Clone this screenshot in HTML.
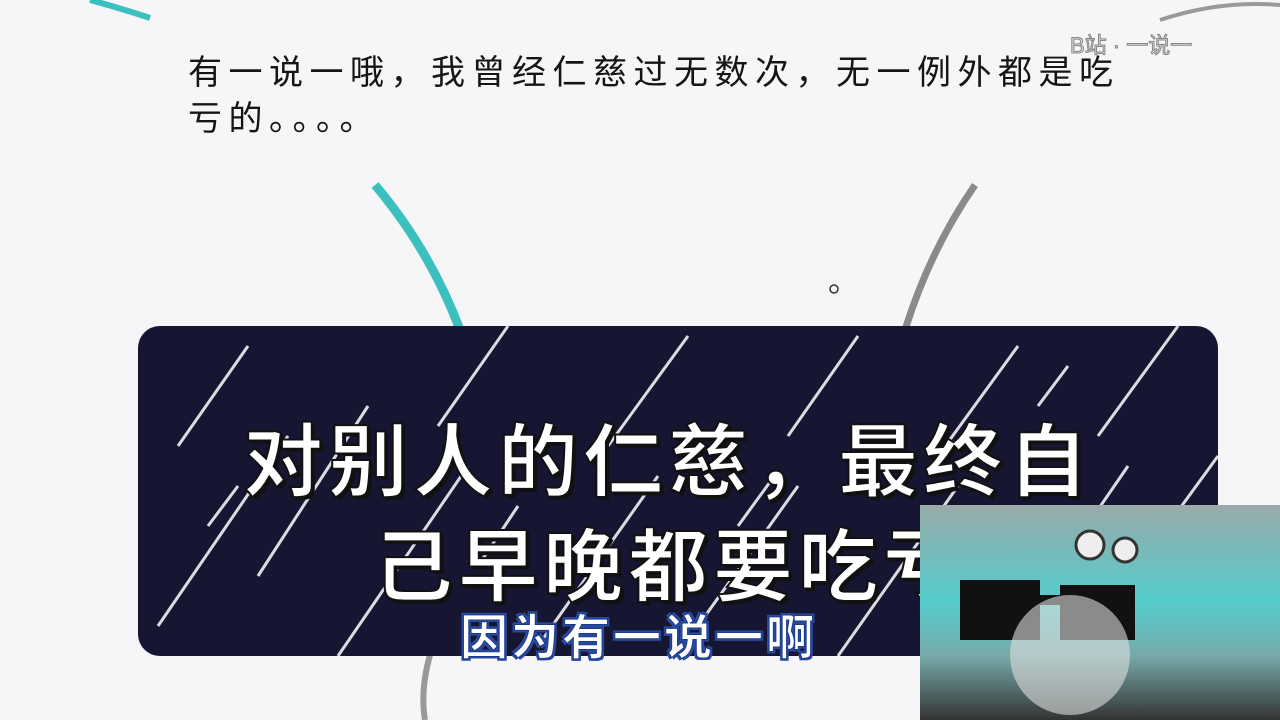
<!DOCTYPE html>
<html><head><meta charset="utf-8"><style>
body{margin:0;width:1280px;height:720px;overflow:hidden;background:#f6f6f9;position:relative;font-family:"Liberation Sans","Noto Sans CJK SC",sans-serif}
.abs{position:absolute}
#top{left:188px;top:50px;font-size:34px;line-height:46px;letter-spacing:6.5px;color:#151515;width:960px}
#banner{left:138px;top:326px;width:1080px;height:330px;background:#161632;border-radius:22px;overflow:hidden}
.big{color:#fff;font-size:80px;font-weight:bold;letter-spacing:5px;-webkit-text-stroke:2px #111;text-shadow:3px 3px 0 #111;white-space:nowrap}
#sub{left:460px;top:598px;font-size:48px;font-weight:bold;color:#fff;-webkit-text-stroke:1px #1a3a8a;text-shadow:2px 2px 0 #2a4aa0,-2px -2px 0 #2a4aa0,2px -2px 0 #2a4aa0,-2px 2px 0 #2a4aa0;letter-spacing:3px;white-space:nowrap}
#cam{left:920px;top:505px;width:360px;height:215px;background:linear-gradient(180deg,#9aa 0%,#5cc 45%,#7aa 70%,#333 100%);overflow:hidden}
</style></head><body>
<svg class="abs" width="1280" height="720" style="left:0;top:0">
<path d="M90 0 Q120 8 150 18" stroke="#3bbfbf" stroke-width="6" fill="none"/>
<path d="M375 185 Q430 250 460 330" stroke="#3bbfbf" stroke-width="9" fill="none"/>
<path d="M975 185 Q930 250 905 330" stroke="#8a8a8a" stroke-width="7" fill="none"/>
<path d="M1160 20 Q1220 0 1280 5" stroke="#999" stroke-width="4" fill="none"/>
<path d="M430 655 Q420 690 425 720" stroke="#999" stroke-width="6" fill="none"/>
<circle cx="834" cy="289" r="4" stroke="#333" stroke-width="1.5" fill="none"/>
</svg>
<div class="abs" style="left:1070px;top:28px;font-size:22px;color:#ddd;-webkit-text-stroke:1px #888">B站 · 一说一</div>
<div id="top" class="abs">有一说一哦，我曾经仁慈过无数次，无一例外都是吃<br>亏的。。。。</div>
<div id="banner" class="abs">
<svg width="1080" height="330">
<g stroke="#fff" stroke-width="3" opacity="0.85">
<line x1="40" y1="120" x2="110" y2="20"/><line x1="20" y1="300" x2="150" y2="110"/><line x1="120" y1="250" x2="230" y2="80"/>
<line x1="200" y1="330" x2="330" y2="140"/><line x1="300" y1="100" x2="370" y2="0"/><line x1="400" y1="320" x2="520" y2="150"/>
<line x1="470" y1="120" x2="550" y2="10"/><line x1="560" y1="300" x2="660" y2="160"/><line x1="650" y1="110" x2="720" y2="10"/>
<line x1="700" y1="330" x2="820" y2="160"/><line x1="800" y1="130" x2="880" y2="20"/><line x1="880" y1="300" x2="990" y2="140"/>
<line x1="960" y1="110" x2="1040" y2="0"/><line x1="1000" y1="240" x2="1080" y2="130"/><line x1="70" y1="200" x2="100" y2="160"/>
<line x1="340" y1="240" x2="380" y2="180"/><line x1="600" y1="200" x2="640" y2="145"/><line x1="900" y1="80" x2="930" y2="40"/>
</g></svg>
<div class="abs big" style="left:105px;top:72px">对别人的仁慈，最终自</div>
<div class="abs big" style="left:235px;top:177px">己早晚都要吃亏</div>
</div>
<div id="sub" class="abs">因为有一说一啊</div>
<div id="cam" class="abs">
<svg width="360" height="215"><rect x="40" y="75" width="80" height="60" fill="#111"/><rect x="140" y="80" width="75" height="55" fill="#111"/><rect x="110" y="90" width="40" height="10" fill="#111"/>
<ellipse cx="150" cy="150" rx="60" ry="60" fill="#ddd" opacity="0.6"/><circle cx="170" cy="40" r="14" fill="#eee" stroke="#333" stroke-width="3"/><circle cx="205" cy="45" r="12" fill="#eee" stroke="#333" stroke-width="3"/></svg>
</div>
</body></html>
